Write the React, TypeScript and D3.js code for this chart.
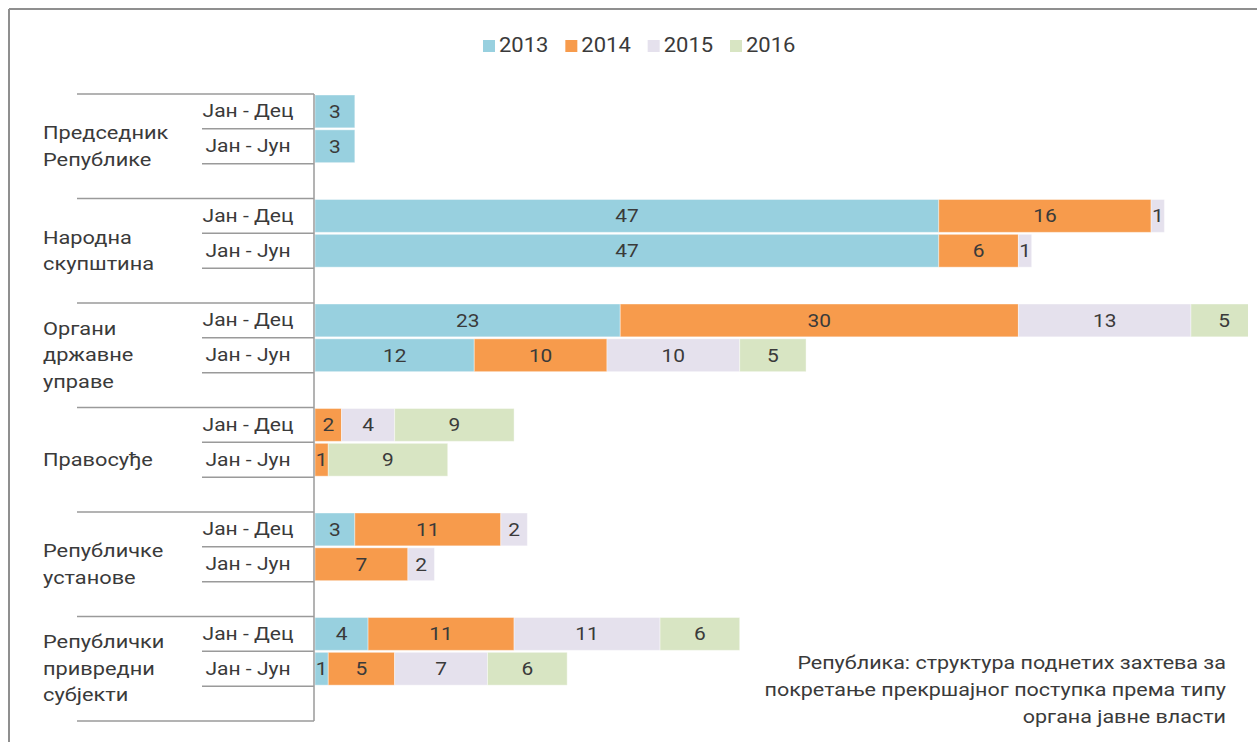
import React from "react";
import * as d3 from "d3";

const categories: string[][] = [
  ["Председник", "Републике"],
  ["Народна", "скупштина"],
  ["Органи", "државне", "управе"],
  ["Правосуђе"],
  ["Републичке", "установе"],
  ["Републички", "привредни", "субјекти"],
];
const periods = ["Јан - Дец", "Јан - Јун"];
const years = ["2013", "2014", "2015", "2016"];
// values per row: [cat0-Dec, cat0-Jun, cat1-Dec, cat1-Jun, ...]
const v2013 = [3, 3, 47, 47, 23, 12, 0, 0, 3, 0, 4, 1];
const v2014 = [0, 0, 16, 6, 30, 10, 2, 1, 11, 7, 11, 5];
const v2015 = [0, 0, 1, 1, 13, 10, 4, 0, 2, 2, 11, 7];
const v2016 = [0, 0, 0, 0, 5, 5, 9, 9, 0, 0, 6, 6];
const seriesValues = [v2013, v2014, v2015, v2016];
const colors = ["#98D0DF", "#F79B4C", "#E5E1ED", "#D8E5C3"];
const titleLines = [
  "Република: структура поднетих захтева за",
  "покретање прекршајног поступка према типу",
  "органа јавне власти",
];

const FONT = "Roboto, sans-serif";
const TEXT = "#3a3a3a";
const SX = 1.17;

function SText({ x, y, size, anchor = "start", fill = TEXT, sx = SX, children }: any) {
  return (
    <text transform={`translate(${x},${y}) scale(${sx},1)`} fontSize={size} textAnchor={anchor}
      fill={fill} fontWeight={400}>{children}</text>
  );
}

export default function App() {
  const W = 1257, H = 742;
  const x = d3.scaleLinear().domain([0, 70.3]).range([315, 1248]);
  const gy = d3.scaleBand<number>().domain(d3.range(categories.length)).range([94, 721]).paddingInner(0);
  const ry = d3.scaleBand<number>().domain([0, 1, 2]).range([0, gy.bandwidth()]);
  const stack = d3.stack<number>().keys(years.map((_, i) => String(i)))
    .value((d, k) => seriesValues[+k][d]);
  const rows = d3.range(categories.length * periods.length);
  const layers = stack(rows);

  const legendX = d3.scalePoint<string>().domain(years).range([483, 730]);

  return (
    <svg width={W} height={H} style={{ position: "absolute", left: 0, top: 0, fontFamily: FONT }}>
      <defs>
        <clipPath id="plot">
          <rect x={x(0)} y={0} width={x(70.3) - x(0)} height={H} />
        </clipPath>
      </defs>
      <rect x={0} y={0} width={W} height={H} fill="#fff" />
      <line x1={9} y1={9} x2={W} y2={9} stroke="#8f8f8f" strokeWidth={2} />
      <line x1={9} y1={9} x2={9} y2={H} stroke="#8f8f8f" strokeWidth={2} />

      {/* legend */}
      {years.map((yr, i) => (
        <g key={yr} transform={`translate(${legendX(yr)},0)`}>
          <rect x={0} y={40} width={12} height={12} fill={colors[i]} />
          <SText x={16} y={52} size={20} sx={1.1}>{yr}</SText>
        </g>
      ))}

      {/* bars */}
      <g clipPath="url(#plot)">
        {layers.map((layer, si) => (
          <g key={si}>
            {layer.map((d, ri) => {
              const v = d[1] - d[0];
              if (!v) return null;
              const g = Math.floor(ri / 2), p = ri % 2;
              const y0 = (gy(g) as number) + (ry(p) as number);
              return (
                <rect key={ri} x={x(d[0])} y={y0 + 1} width={x(d[1]) - x(d[0])}
                  height={ry.bandwidth() - 2} fill={colors[si]} stroke="#ffffff" strokeOpacity={0.4} strokeWidth={1} />
              );
            })}
          </g>
        ))}
      </g>
      {layers.map((layer, si) => (
        <g key={"l" + si}>
          {layer.map((d, ri) => {
            const v = d[1] - d[0];
            if (!v) return null;
            const g = Math.floor(ri / 2), p = ri % 2;
            const yc = (gy(g) as number) + (ry(p) as number) + ry.bandwidth() / 2;
            return (
              <SText key={ri} x={(x(d[0]) + x(d[1])) / 2} y={yc + 6.5} size={19} sx={1.1}
                anchor="middle" fill="#3a3a3a">{v}</SText>
            );
          })}
        </g>
      ))}

      {/* axis & row lines */}
      <line x1={x(0) - 1} y1={gy(0)} x2={x(0) - 1} y2={721} stroke="#9a9a9a" strokeWidth={1.5} />
      {categories.map((_, g) => (
        <g key={g}>
          <line x1={77} x2={x(0) - 1} y1={gy(g)} y2={gy(g)} stroke="#9a9a9a" strokeWidth={1.5} />
          {periods.map((per, p) => {
            const top = (gy(g) as number) + (ry(p) as number);
            return (
              <g key={p}>
                <line x1={202} x2={x(0) - 1} y1={top + ry.bandwidth()} y2={top + ry.bandwidth()} stroke="#9a9a9a" strokeWidth={1.5} />
                <SText x={248} y={top + ry.bandwidth() / 2 + 6} size={18} anchor="middle">{per}</SText>
              </g>
            );
          })}
        </g>
      ))}
      <line x1={77} x2={x(0) - 1} y1={721} y2={721} stroke="#9a9a9a" strokeWidth={1.5} />

      {/* category labels */}
      {categories.map((lines, g) => {
        const cy = (gy(g) as number) + gy.bandwidth() / 2;
        const start = cy - ((lines.length - 1) * 26.5) / 2 + 6;
        return (
          <g key={g}>
            {lines.map((ln, i) => (
              <SText key={i} x={43} y={start + i * 26.5} size={18} sx={1.21}>{ln}</SText>
            ))}
          </g>
        );
      })}

      {/* title */}
      {titleLines.map((ln, i) => (
        <SText key={i} x={1226} y={669 + i * 27} size={18} anchor="end" sx={1.195}>{ln}</SText>
      ))}
    </svg>
  );
}
